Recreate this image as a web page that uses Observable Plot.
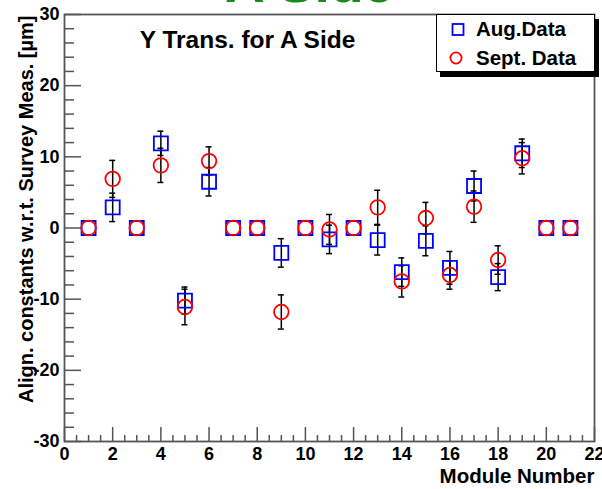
<!DOCTYPE html>
<html>
<head>
<meta charset="utf-8">
<script src="https://cdn.jsdelivr.net/npm/d3@7"></script>
<script src="https://cdn.jsdelivr.net/npm/@observablehq/plot@0.6"></script>
<style>
  body { margin: 0; background: #fff; }
  #wrap { position: relative; width: 602px; height: 489px; overflow: hidden;
          font-family: "Liberation Sans", Arial, sans-serif; }
  .legend { position: absolute; left: 436px; top: 14px; width: 159px; height: 58px;
            box-sizing: border-box; border: 1.5px solid #000; background: #fff;
            box-shadow: 4px 5px 0 #000; }
  .legend svg { position: absolute; left: 0; top: 0; }
</style>
</head>
<body>
<div id="wrap"></div>
<script>
// Module numbers on the A side
const modules = [1, 2, 3, 4, 5, 6, 7, 8, 9, 10, 11, 12, 13, 14, 15, 16, 17, 18, 19, 20, 21];

// Y translation alignment constants [µm], August data set
const augValues = [0, 2.9, 0, 11.9, -10.2, 6.5, 0, 0, -3.5, 0, -1.6, 0, -1.7, -6.2, -1.8, -5.6, 5.9, -6.9, 10.5, 0, 0];
const augErrors = [0, 2.0, 0, 1.7, 1.9, 2.0, 0, 0, 2.0, 0, 2.0, 0, 2.1, 2.0, 2.1, 2.3, 2.1, 1.9, 2.0, 0, 0];

// Y translation alignment constants [µm], September data set
const septValues = [0, 6.9, 0, 8.8, -11.1, 9.4, 0, 0, -11.8, 0, -0.2, 0, 2.9, -7.5, 1.4, -6.6, 3.0, -4.5, 9.8, 0, 0];
const septErrors = [0, 2.6, 0, 2.4, 2.5, 2.0, 0, 0, 2.4, 0, 2.1, 0, 2.4, 2.2, 2.2, 2.0, 2.2, 2.0, 2.2, 0, 0];

// Axis ticks
const xMajorTicks = [0, 2, 4, 6, 8, 10, 12, 14, 16, 18, 20, 22];
const xMinorTicks = d3.range(0, 22.01, 0.5).filter(v => v % 2 !== 0);
const yMajorTicks = [-30, -20, -10, 0, 10, 20, 30];
const yMinorTicks = d3.range(-30, 30.01, 2).filter(v => v % 10 !== 0);

const seriesNames = ["Aug.Data", "Sept. Data"];
const seriesColors = ["#0000ff", "#ff0000"];

const aug = modules.map((m, i) => ({m, v: augValues[i], e: augErrors[i]}));
const sept = modules.map((m, i) => ({m, v: septValues[i], e: septErrors[i]}));
const withErr = d => d.e > 0;

const W = 602, H = 489;
const mL = 64, mR = 8, mT = 14, mB = 48;
const frameW = W - mL - mR, frameH = H - mT - mB;
const font = "'Liberation Sans', Arial, sans-serif";

// Error bars: vertical bar plus small caps at both ends
function errorBars(data) {
  const d = data.filter(withErr);
  return [
    Plot.ruleX(d, {x: "m", y1: r => r.v - r.e, y2: r => r.v + r.e, stroke: "#000", strokeWidth: 1.5}),
    Plot.ruleY(d, {y: r => r.v + r.e, x1: "m", x2: "m", insetLeft: -3, insetRight: -3, stroke: "#000", strokeWidth: 1.5}),
    Plot.ruleY(d, {y: r => r.v - r.e, x1: "m", x2: "m", insetLeft: -3, insetRight: -3, stroke: "#000", strokeWidth: 1.5})
  ];
}

const chart = Plot.plot({
  width: W,
  height: H,
  marginLeft: mL,
  marginRight: mR,
  marginTop: mT,
  marginBottom: mB,
  style: {fontFamily: font, background: "#fff", overflow: "visible"},
  x: {domain: [0, 22]},
  y: {domain: [-30, 30]},
  marks: [
    // inward ticks on the bottom and left axes
    Plot.ruleX(xMajorTicks, {stroke: "#555", strokeWidth: 1.5, insetTop: frameH - 14}),
    Plot.ruleX(xMinorTicks, {stroke: "#555", strokeWidth: 1.5, insetTop: frameH - 6}),
    Plot.ruleY(yMajorTicks, {stroke: "#555", strokeWidth: 1.5, insetRight: frameW - 17}),
    Plot.ruleY(yMinorTicks, {stroke: "#555", strokeWidth: 1.5, insetRight: frameW - 10}),
    Plot.axisX(xMajorTicks, {tickSize: 0, tickPadding: 6, label: null, tickFormat: d => String(d),
      fontSize: 18, fontWeight: "bold", fill: "#000"}),
    Plot.axisY(yMajorTicks, {tickSize: 0, tickPadding: 5, label: null, tickFormat: d => String(d),
      fontSize: 18, fontWeight: "bold", fill: "#000"}),
    Plot.frame({stroke: "#555", strokeWidth: 1.8}),

    // measurements
    ...errorBars(aug),
    ...errorBars(sept),
    Plot.dot(aug, {x: "m", y: "v", symbol: "square", r: 7.9, stroke: seriesColors[0], strokeWidth: 1.8, fill: "none"}),
    Plot.dot(sept, {x: "m", y: "v", symbol: "circle", r: 7.3, stroke: seriesColors[1], strokeWidth: 1.8, fill: "none"}),

    // titles
    Plot.text(["Y Trans. for A Side"], {frameAnchor: "top", text: d => d, dx: -82, dy: 33,
      lineAnchor: "bottom", fontSize: 24.5, fontWeight: "bold", fill: "#000"}),
    Plot.text(["A Side"], {frameAnchor: "top", text: d => d, dx: -20, dy: -13,
      lineAnchor: "bottom", fontSize: 55, fontWeight: "bold", fill: "#178a17"}),
    Plot.text(["Module Number"], {frameAnchor: "bottom-right", text: d => d, dy: 27,
      lineAnchor: "top", textAnchor: "end", fontSize: 20.5, fontWeight: "bold", fill: "#000"}),
    Plot.text(["Align. constants w.r.t. Survey Meas. [µm]"], {frameAnchor: "top-left", text: d => d,
      dx: -32, dy: 1, rotate: -90, lineAnchor: "bottom", textAnchor: "end",
      fontSize: 20, fontWeight: "bold", fill: "#000"})
  ]
});

const wrap = document.getElementById("wrap");
wrap.appendChild(chart);

// Legend box
const legend = document.createElement("div");
legend.className = "legend";
const ns = "http://www.w3.org/2000/svg";
const lsvg = document.createElementNS(ns, "svg");
lsvg.setAttribute("width", 158);
lsvg.setAttribute("height", 57);
const rows = [
  {shape: "rect", y: 14.5, baseline: 20.5},
  {shape: "circle", y: 43, baseline: 49.5}
];
rows.forEach((row, i) => {
  let mk;
  if (row.shape === "rect") {
    mk = document.createElementNS(ns, "rect");
    mk.setAttribute("x", 15.5); mk.setAttribute("y", row.y - 5.5);
    mk.setAttribute("width", 11); mk.setAttribute("height", 11);
  } else {
    mk = document.createElementNS(ns, "circle");
    mk.setAttribute("cx", 19); mk.setAttribute("cy", row.y); mk.setAttribute("r", 5.6);
  }
  mk.setAttribute("fill", "none");
  mk.setAttribute("stroke", seriesColors[i]);
  mk.setAttribute("stroke-width", 1.8);
  lsvg.appendChild(mk);
  const t = document.createElementNS(ns, "text");
  t.setAttribute("x", 39);
  t.setAttribute("y", row.baseline);
  t.setAttribute("font-family", font);
  t.setAttribute("font-size", 20.5);
  t.setAttribute("font-weight", "bold");
  t.textContent = seriesNames[i];
  lsvg.appendChild(t);
});
legend.appendChild(lsvg);
wrap.appendChild(legend);
</script>
</body>
</html>
